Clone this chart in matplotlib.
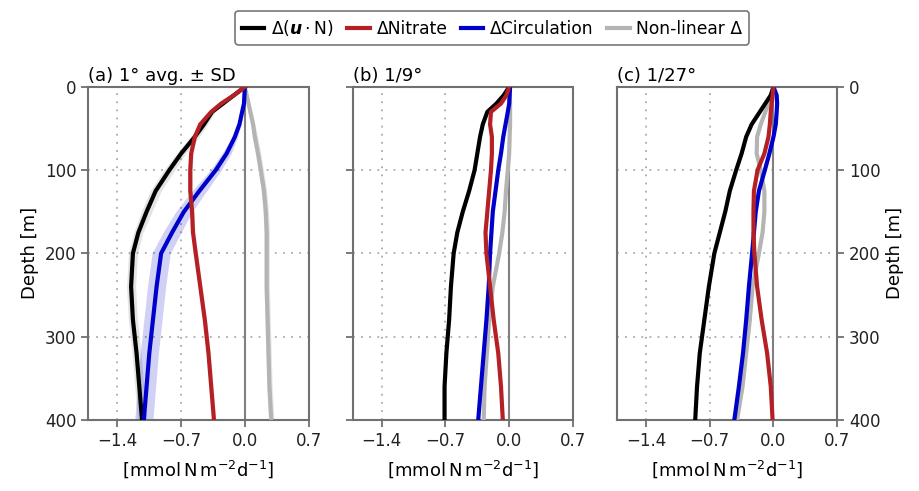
import numpy as np
import matplotlib.pyplot as plt

# depth levels (m)
depth = [0, 10, 20, 30, 45, 60, 80, 100, 125, 150, 175, 200, 240, 280, 320, 360, 400]

# (a) 1 deg average
a_total = [0, -0.12, -0.24, -0.36, -0.45, -0.55, -0.70, -0.83, -0.98, -1.08, -1.17, -1.23, -1.25, -1.23, -1.19, -1.16, -1.13]
a_nitrate = [0, -0.12, -0.26, -0.37, -0.49, -0.55, -0.59, -0.60, -0.60, -0.58, -0.57, -0.54, -0.49, -0.44, -0.40, -0.37, -0.34]
a_circ = [0, -0.005, -0.01, -0.03, -0.06, -0.11, -0.20, -0.32, -0.50, -0.67, -0.80, -0.92, -0.97, -1.01, -1.05, -1.08, -1.11]
a_nonlin = [0, 0.02, 0.04, 0.06, 0.09, 0.11, 0.145, 0.175, 0.21, 0.23, 0.24, 0.24, 0.24, 0.25, 0.26, 0.27, 0.29]
# standard deviations for (a)
a_total_sd = [0, 0.01, 0.02, 0.03, 0.04, 0.05, 0.05, 0.06, 0.06, 0.06, 0.05, 0.05, 0.05, 0.05, 0.05, 0.05, 0.05]
a_nitrate_sd = [0, 0.01, 0.01, 0.02, 0.02, 0.02, 0.02, 0.02, 0.02, 0.02, 0.02, 0.02, 0.02, 0.02, 0.02, 0.02, 0.02]
a_circ_sd = [0, 0.005, 0.01, 0.015, 0.02, 0.03, 0.05, 0.06, 0.08, 0.09, 0.10, 0.10, 0.10, 0.10, 0.10, 0.10, 0.10]
a_nonlin_sd = [0, 0.01, 0.01, 0.02, 0.02, 0.03, 0.03, 0.03, 0.03, 0.03, 0.03, 0.03, 0.03, 0.03, 0.03, 0.03, 0.03]

# (b) 1/9 deg
b_total = [0, -0.06, -0.14, -0.24, -0.29, -0.32, -0.35, -0.38, -0.44, -0.51, -0.57, -0.61, -0.64, -0.66, -0.69, -0.71, -0.71]
b_nitrate = [0, -0.03, -0.09, -0.20, -0.21, -0.19, -0.19, -0.20, -0.22, -0.24, -0.26, -0.25, -0.21, -0.17, -0.12, -0.09, -0.07]
b_circ = [0.01, 0.005, 0, -0.015, -0.04, -0.065, -0.09, -0.12, -0.15, -0.18, -0.195, -0.21, -0.225, -0.25, -0.28, -0.31, -0.34]
b_nonlin = [0, 0.005, 0.01, 0.01, 0.01, 0.005, 0, -0.015, -0.035, -0.05, -0.075, -0.11, -0.18, -0.22, -0.245, -0.27, -0.28]

# (c) 1/27 deg
c_total = [0, -0.03, -0.09, -0.15, -0.24, -0.30, -0.35, -0.41, -0.48, -0.53, -0.59, -0.65, -0.71, -0.76, -0.81, -0.84, -0.86]
c_nitrate = [0, -0.01, -0.02, -0.03, -0.04, -0.055, -0.10, -0.175, -0.215, -0.22, -0.22, -0.21, -0.18, -0.13, -0.07, -0.03, -0.01]
c_circ = [0, 0.035, 0.04, 0.035, 0.025, 0.0, -0.045, -0.095, -0.16, -0.195, -0.215, -0.235, -0.27, -0.30, -0.335, -0.38, -0.43]
c_nonlin = [0, -0.02, -0.05, -0.09, -0.14, -0.18, -0.185, -0.14, -0.10, -0.10, -0.12, -0.16, -0.23, -0.26, -0.30, -0.34, -0.40]

titles = ['(a) 1° avg. ± SD', '(b) 1/9°', '(c) 1/27°']
labels = [r'Δ($\mathbfit{u}\cdot$N)', 'ΔNitrate', 'ΔCirculation', 'Non-linear Δ']
colors = ['black', '#b52025', '#0000cc', '#b4b4b4']
xticks = [-1.4, -0.7, 0.0, 0.7]

spine_c = '#707070'

fig, axes = plt.subplots(1, 3, figsize=(9.2, 4.91), dpi=100)
fig.subplots_adjust(left=0.096, right=0.91, top=0.823, bottom=0.145, wspace=0.2)

panels = [
    (a_total, a_nitrate, a_circ, a_nonlin),
    (b_total, b_nitrate, b_circ, b_nonlin),
    (c_total, c_nitrate, c_circ, c_nonlin),
]
sds = (a_total_sd, a_nitrate_sd, a_circ_sd, a_nonlin_sd)

d = np.array(depth)
for i, ax in enumerate(axes):
    total, nitrate, circ, nonlin = panels[i]
    ax.axvline(0, color='#808080', lw=1.5, zorder=1)
    for x in [-1.4, -0.7]:
        ax.axvline(x, color='#aaaaaa', lw=1.3, ls=(0, (1, 3.5)), zorder=0)
    for y in [100, 200, 300]:
        ax.axhline(y, color='#aaaaaa', lw=1.3, ls=(0, (1, 3.5)), zorder=0)

    series = [total, nitrate, circ, nonlin]
    if i == 0:
        for s, sd, c in zip(series, sds, colors):
            s = np.array(s); sd = np.array(sd)
            fc = '#888888' if c in ('black', '#b4b4b4') else c
            al = 0.18 if c == '#0000cc' else 0.22
            ax.fill_betweenx(d, s - sd, s + sd, color=fc, alpha=al, lw=0, zorder=2)
    order = [3, 0, 2, 1]
    for k in order:
        ax.plot(series[k], d, color=colors[k], lw=3, zorder=3)

    ax.set_xlim(-1.72, 0.7)
    ax.set_ylim(400, 0)
    ax.set_xticks(xticks)
    ax.set_xticklabels(['−1.4', '−0.7', '0.0', '0.7'])
    ax.set_yticks([0, 100, 200, 300, 400])
    ax.set_title(titles[i], loc='left', fontsize=13, pad=4)
    ax.set_xlabel(r'[mmol$\,$N$\,$m$^{-2}$d$^{-1}$]', fontsize=13, labelpad=6)
    for sp in ax.spines.values():
        sp.set_color(spine_c)
        sp.set_linewidth(1.5)
    ax.tick_params(colors=spine_c, labelcolor='#222222', labelsize=12,
                   width=1.3, length=5)

axes[0].set_ylabel('Depth [m]', fontsize=13)
axes[1].set_yticklabels([])
axes[2].yaxis.tick_right()
axes[2].yaxis.set_label_position('right')
axes[2].set_ylabel('Depth [m]', fontsize=13)

handles = [plt.Line2D([], [], color=c, lw=3) for c in colors]
leg = fig.legend(handles, labels, loc='upper center', bbox_to_anchor=(0.535, 0.995),
                 ncol=4, fontsize=12.3, frameon=True, handlelength=1.3,
                 columnspacing=0.8, handletextpad=0.4, fancybox=True,
                 borderpad=0.4)
leg.get_frame().set_edgecolor('#555555')
leg.get_frame().set_linewidth(1.2)

fig.savefig('out.png', dpi=100)
